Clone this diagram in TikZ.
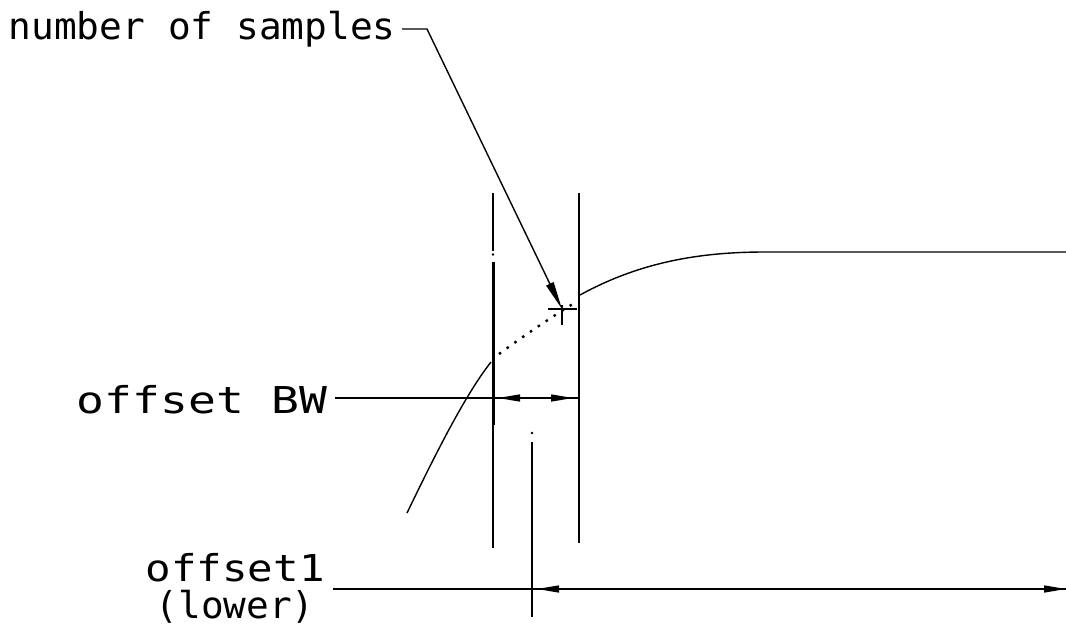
\documentclass[tikz,border=0pt]{standalone}
\usepackage{fontspec}
\newfontfamily\cadfont{DejaVu Sans Mono}
\usetikzlibrary{arrows.meta}
\begin{document}
\begin{tikzpicture}[x=1pt,y=-1pt,line width=1.4pt,
  lbl/.style={font=\cadfont\fontsize{37}{40}\selectfont,inner sep=0pt,anchor=base west},
  dimtip/.style={-{Triangle[length=22pt,width=7pt]}},
  leadtip/.style={-{Triangle[length=28pt,width=8pt]}},
  thickline/.style={line width=3pt},
  dotline/.style={line width=2.4pt,dash pattern=on 2.5pt off 7pt}]
\useasboundingbox (0,0) rectangle (1066,627);
% labels
\node[lbl] (ns) at (8,39) {\resizebox{387pt}{\height}{number of samples}};
\node[lbl] (bw) at (76,413) {\resizebox{251pt}{\height}{offset BW}};
\node[lbl] (o1) at (145,581) {\resizebox{179pt}{\height}{offset1}};
\node[lbl] (lo) at (155,618) {\resizebox{159pt}{\height}{(lower)}};
% named points
\coordinate (nsa) at (402,29);
\coordinate (nsb) at (427,29);
\coordinate (tip) at (562,309);
\coordinate (chl) at (548,309);
\coordinate (chr) at (577,309);
\coordinate (cvt) at (562,305);
\coordinate (cvb) at (562,325);
\coordinate (LT) at (493,193);
\coordinate (LA) at (493,251);
\coordinate (LD) at (493,254.5);
\coordinate (LB) at (493,262);
\coordinate (LC) at (493,425);
\coordinate (LE) at (493,548);
\coordinate (RT) at (579,193);
\coordinate (RB) at (579,543);
\coordinate (bwa) at (335,398);
\coordinate (bwb) at (579,398);
\coordinate (bwl1) at (524,398);
\coordinate (bwl2) at (498,398);
\coordinate (bwr1) at (550,398);
\coordinate (bwr2) at (573,398);
\coordinate (o1a) at (333,589);
\coordinate (o1b) at (1066,589);
\coordinate (o1l1) at (562,589);
\coordinate (o1l2) at (537,589);
\coordinate (o1r1) at (1040,589);
\coordinate (o1r2) at (1066,589);
\coordinate (MT) at (532,442);
\coordinate (MB) at (532,617);
\coordinate (MD) at (532,433);
% leader for number of samples
\draw[leadtip] (nsa) -- (nsb) -- (tip);
\draw (chl) -- (chr);
\draw (cvt) -- (cvb);
% vertical lines
\draw (LT) -- (LA);
\fill (LD) circle (1.3pt);
\draw[thickline] (LB) -- (LC);
\draw (LC) -- (LE);
\draw (RT) -- (RB);
% curve
\draw (407,513) .. controls (435,455) and (465,395) .. (491,362);
\draw[dotline] (499,354) .. controls (525,335) and (550,318) .. (576,302);
\draw (580,295) .. controls (640,262) and (700,252) .. (765,252) -- (1066,252);
% offset BW dimension
\draw (bwa) -- (bwb);
\draw[dimtip] (bwl1) -- (bwl2);
\draw[dimtip] (bwr1) -- (bwr2);
% offset1 dimension
\draw (o1a) -- (o1b);
\draw[dimtip] (o1l1) -- (o1l2);
\draw[dimtip] (o1r1) -- (o1r2);
\draw (MT) -- (MB);
\fill (MD) circle (1.3pt);
\end{tikzpicture}
\end{document}
